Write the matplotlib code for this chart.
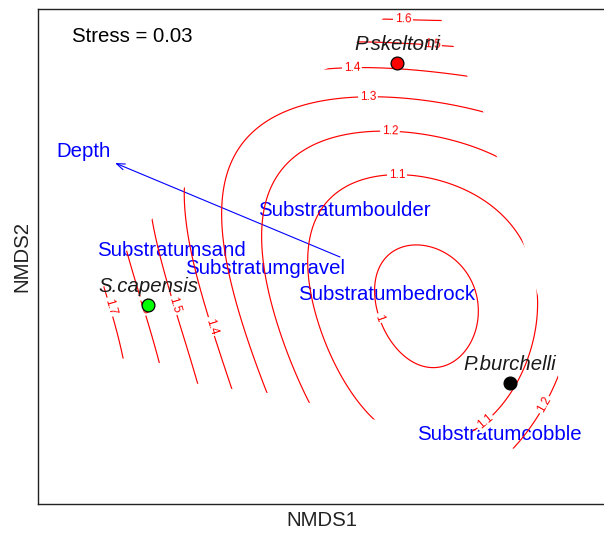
import numpy as np
import matplotlib
matplotlib.use("Agg")
import matplotlib.pyplot as plt
from matplotlib.path import Path
from matplotlib.patches import PathPatch

plt.rcParams['font.family'] = ['Liberation Sans', 'DejaVu Sans']

# --- NMDS species scores -------------------------------------------------
species = ["P.skeltoni", "S.capensis", "P.burchelli"]
species_x = [0.228, -0.768, 0.680]
species_y = [0.776, -0.192, -0.504]
species_col = ["#ff0000", "#00ff00", "#000000"]

# --- fitted environmental vector ----------------------------------------
depth_vec = (-0.900, 0.376)

# --- substratum factor centroids ----------------------------------------
substrata = ["Substratumboulder", "Substratumsand", "Substratumgravel",
             "Substratumbedrock", "Substratumcobble"]
substr_x = [0.016, -0.676, -0.300, 0.188, 0.636]
substr_y = [0.184, 0.028, -0.044, -0.152, -0.712]

stress = 0.03

# --- smooth response surface (quartic in NMDS1, NMDS2) -------------------
surface_terms = [(0, 0), (0, 1), (1, 0), (0, 2), (1, 1), (2, 0), (0, 3), (1, 2),
                 (2, 1), (3, 0), (0, 4), (1, 3), (2, 2), (3, 1), (4, 0)]
surface_coef = [1.0465, 0.0701, -0.3501, 0.4601, 0.4164, 0.5176, 0.1193, 0.1763,
                -0.1462, 0.1145, -0.0421, -0.2505, -0.2560, -0.2795, -0.0865]
surface_levels = [1.0, 1.1, 1.2, 1.3, 1.4, 1.5, 1.6, 1.7]

# hull of the site scores; the surface is shown only inside it
site_hull_x = [0.232, 0.360, 0.568, 0.744, 0.788, 0.888, 0.720, 0.560, 0.120,
               -0.120, -0.288, -0.432, -0.568, -0.720, -0.920, -0.960, -0.864,
               -0.752, -0.616, -0.500, -0.320, -0.048, 0.192]
site_hull_y = [1.048, 1.048, 0.596, 0.020, -0.140, -0.540, -0.780, -0.700, -0.648,
               -0.584, -0.544, -0.528, -0.508, -0.424, -0.400, -0.140, 0.012,
               0.152, 0.284, 0.468, 0.628, 0.756, 0.972]

# where the contour labels sit
label_spots = [(-0.92, -0.20), (-0.80, -0.20), (0.252, 0.956), (-0.684, -0.20),
               (0.368, 0.848), (-0.52, -0.28), (0.048, 0.748), (0.112, 0.632),
               (0.20, 0.504), (0.82, -0.592), (0.228, 0.328), (0.568, -0.644),
               (0.16, -0.244)]


def surface(x, y):
    z = np.zeros_like(x)
    for (i, j), c in zip(surface_terms, surface_coef):
        z = z + c * x**i * y**j
    return z


fig = plt.figure(figsize=(6.04, 5.33), dpi=100)
ax = fig.add_axes([38/604, (533-504)/533, (606-38)/604, (504-9)/533])
xlim = (-1.208, 1.064)
ylim = (-0.988, 0.992)
ax.set_xlim(*xlim)
ax.set_ylim(*ylim)
ax.set_xticks([])
ax.set_yticks([])
for sp in ax.spines.values():
    sp.set_linewidth(1.0)
    sp.set_color('#222222')

FS = 14.7

# species
for name, x, y, col in zip(species, species_x, species_y, species_col):
    ax.scatter([x], [y], s=85, c=col, edgecolors='black', linewidths=0.9, zorder=3)
    ax.annotate(name, (x, y), xytext=(0, 13.2), textcoords='offset points',
                ha='center', va='center', fontsize=FS, style='italic',
                color='#1a1a1a', zorder=3)

# depth vector
ax.annotate('', xy=depth_vec, xytext=(0, 0),
            arrowprops=dict(arrowstyle='->,head_length=0.6,head_width=0.22',
                            color='blue', lw=0.8, shrinkA=0, shrinkB=0), zorder=2)
ax.text(depth_vec[0]*1.14, depth_vec[1]*1.12, "Depth", color='blue', fontsize=FS,
        ha='center', va='center', zorder=2)

# factor centroids
for name, x, y in zip(substrata, substr_x, substr_y):
    ax.text(x, y, name, color='blue', fontsize=FS, ha='center', va='center', zorder=2)

# contoured surface, limited to the site hull
gx = np.linspace(*xlim, 500)
gy = np.linspace(*ylim, 500)
GX, GY = np.meshgrid(gx, gy)
Z = surface(GX, GY)
cs = ax.contour(GX, GY, Z, levels=surface_levels, colors='red', linewidths=0.85, zorder=2.4)
hull = PathPatch(Path(np.column_stack([site_hull_x + site_hull_x[:1],
                                       site_hull_y + site_hull_y[:1]]), closed=True),
                 transform=ax.transData, facecolor='none', edgecolor='none')
cs.set_clip_path(hull)
lbls = ax.clabel(cs, manual=label_spots, inline=False, fontsize=8.5,
                 fmt=lambda v: f"{v:g}", colors='red')
for t in lbls:
    t.set_bbox(dict(facecolor='white', edgecolor='none', pad=1.2))
    t.set_zorder(2.6)

ax.text((72-38)/568, (504-37)/495, f"Stress = {stress:.2f}", transform=ax.transAxes,
        fontsize=FS, ha='left', va='center', color='black')

fig.text(322/604, 1-521/533, "NMDS1", fontsize=FS, ha='center', va='center', color='#222222')
fig.text(22/604, 1-257/533, "NMDS2", fontsize=FS, ha='center', va='center',
         rotation=90, color='#222222')

fig.savefig('out.png', dpi=100)
